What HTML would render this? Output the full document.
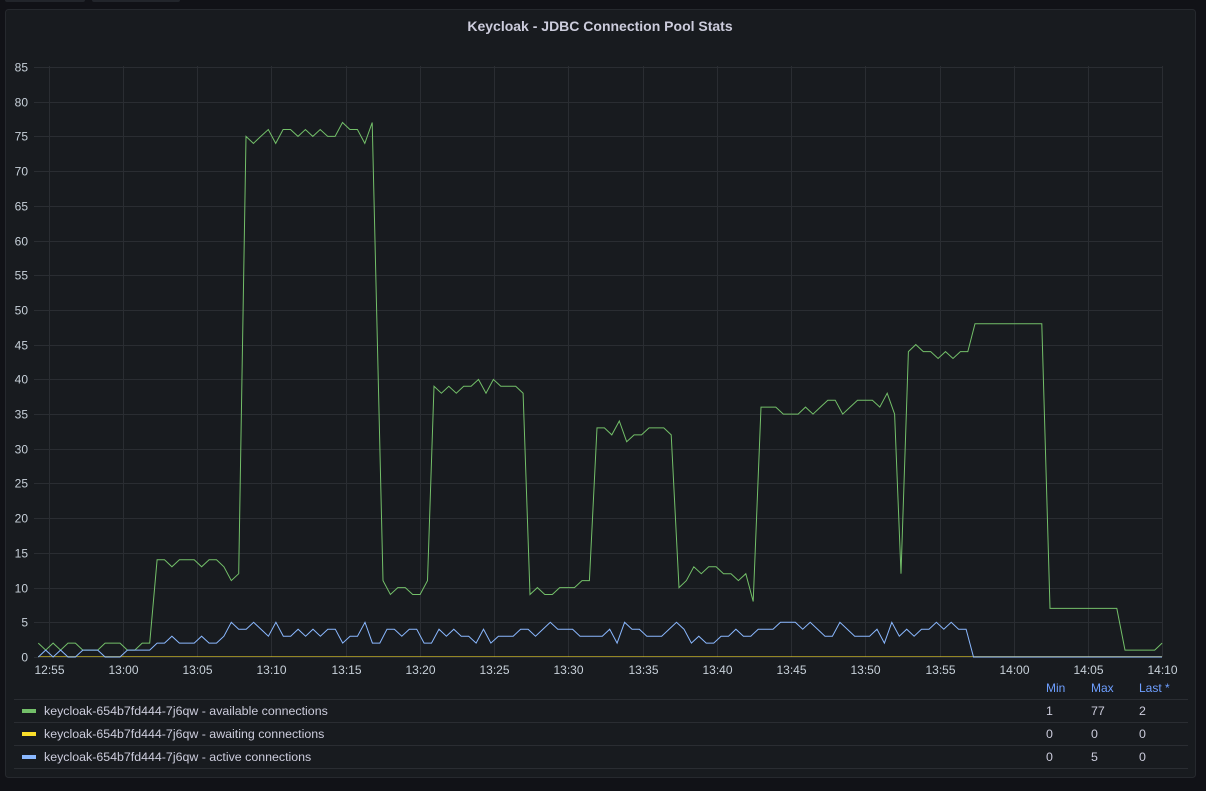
<!DOCTYPE html>
<html><head><meta charset="utf-8"><style>
body{margin:0;background:#111217;width:1206px;height:791px;overflow:hidden;font-family:"Liberation Sans",sans-serif}
svg{position:absolute;left:0;top:0}
</style></head><body>
<svg id="s" width="1206" height="791" xmlns="http://www.w3.org/2000/svg" font-family="Liberation Sans, sans-serif">
<rect x="5" y="-4" width="80" height="6" rx="2" fill="#22252b"/>
<rect x="92" y="-4" width="88" height="6" rx="2" fill="#22252b"/>
<rect x="5.5" y="9.5" width="1190" height="768" rx="3" fill="#181b1f" stroke="#26292e"/>
<text x="600" y="31" text-anchor="middle" fill="#ccccdc" font-size="14" font-weight="600">Keycloak - JDBC Connection Pool Stats</text>
<g id="grid" stroke="#2a2d32" stroke-width="1"></g>
<g id="labels" fill="#c7d0d9" font-size="12"></g>
<polyline id="yel" fill="none" stroke="#fade2a" stroke-opacity="0.55" stroke-width="1"/>
<polyline id="grn" fill="none" stroke="#73bf69" stroke-width="1"/>
<polyline id="blu" fill="none" stroke="#8ab8ff" stroke-width="1"/>
<g font-size="12" fill="#6e9fff"><text x="1046" y="692">Min</text><text x="1091" y="692">Max</text><text x="1139" y="692">Last *</text></g>
<g stroke="#2a2d32"><line x1="14" y1="699.5" x2="1188" y2="699.5"/><line x1="14" y1="722.5" x2="1188" y2="722.5"/><line x1="14" y1="745.5" x2="1188" y2="745.5"/><line x1="14" y1="768.5" x2="1188" y2="768.5"/></g>
<rect x="22" y="709" width="14" height="4" fill="#73bf69"/>
<rect x="22" y="732" width="14" height="4" fill="#fade2a"/>
<rect x="22" y="755" width="14" height="4" fill="#8ab8ff"/>
<g font-size="12.4" fill="#ccccdc">
<text x="44" y="715">keycloak-654b7fd444-7j6qw - available connections</text>
<text x="44" y="738">keycloak-654b7fd444-7j6qw - awaiting connections</text>
<text x="44" y="761">keycloak-654b7fd444-7j6qw - active connections</text>
<text x="1046" y="715">1</text><text x="1091" y="715">77</text><text x="1139" y="715">2</text>
<text x="1046" y="738">0</text><text x="1091" y="738">0</text><text x="1139" y="738">0</text>
<text x="1046" y="761">0</text><text x="1091" y="761">5</text><text x="1139" y="761">0</text>
</g>
</svg>
<script>
var Y=function(v){return 657-v*590/85};
var g=document.getElementById('grid'),L=document.getElementById('labels'),NS='http://www.w3.org/2000/svg';
function el(p,t,a,txt){var e=document.createElementNS(NS,t);for(var k in a)e.setAttribute(k,a[k]);if(txt)e.textContent=txt;p.appendChild(e);}
for(var v=0;v<=85;v+=5){var y=Math.round(Y(v))+0.5;el(g,'line',{x1:34,x2:1162,y1:y,y2:y});el(L,'text',{x:28,y:y+4,'text-anchor':'end'},''+v);}
var tl=['12:55','13:00','13:05','13:10','13:15','13:20','13:25','13:30','13:35','13:40','13:45','13:50','13:55','14:00','14:05','14:10'];
for(var i=0;i<16;i++){var x=Math.round(48.7+i*74.24)+0.5;el(g,'line',{x1:x,x2:x,y1:66,y2:657});el(L,'text',{x:x,y:674,'text-anchor':'middle'},tl[i]);}
var st=7.424;
var segs=[[38.3,[2,1,2,1,2,2,1,1,1,2,2,2,1,1,2,2,14,14,13,14,14,14,13,14,14,13,11,12]],
[246,[75,74,75,76,74,76,76,75,76,75,76,75,75,77,76,76,74,77]],
[383,[11,9,10,10,9,9,11]],
[434,[39,38,39,38,39,39,40,38,40,39,39,39,38]],
[530,[9,10,9,9,10,10,10,11,11]],
[597,[33,33,32,34,31,32,32,33,33,33,32]],
[679,[10,11,13,12,13,13,12,12,11,12,8]],
[761,[36,36,36,35,35,35,36,35,36,37,37,35,36,37,37,37,36,38,35]],
[901,[12,44,45,44,44,43,44,43,44,44]],
[975,[48,48,48,48,48,48,48,48,48,48]],
[1050,[7,7,7,7,7,7,7,7,7,7]],
[1125,[1,1,1,1,1,2]]];
var p=[];segs.forEach(function(s){s[1].forEach(function(v,i){p.push((s[0]+i*st).toFixed(1)+','+Y(v).toFixed(1));});});
document.getElementById('grn').setAttribute('points',p.join(' '));
var b=[0,1,0,1,0,0,1,1,1,0,0,0,1,1,1,1,2,2,3,2,2,2,3,2,2,3,5,4,4,5,4,3,5,3,3,4,3,4,3,4,4,2,3,3,5,2,2];
var b2=[4,4,3,4,4,2,2,4,3,4,3,3,2,4,2,3,3,3,4,4,3,4,5,4,4,4,3,3,3,3,4,2,5,4,4,3,3,3,4,5,4,2,3,2,2,3,3,4,3,3,4,4,4,5,5,5,4,5,4,3,3,5,4,3,3,3,4,2,5,3,4,3,4,4,5,4,5,4,4,0];
var q=[];b.forEach(function(v,i){q.push((38.3+i*st).toFixed(1)+','+Y(v).toFixed(1));});
b2.forEach(function(v,i){q.push((387+i*st).toFixed(1)+','+Y(v).toFixed(1));});
q.push('1162,'+Y(0));
document.getElementById('blu').setAttribute('points',q.join(' '));
document.getElementById('yel').setAttribute('points','38,656.5 1162,656.5');
</script>
</body></html>
